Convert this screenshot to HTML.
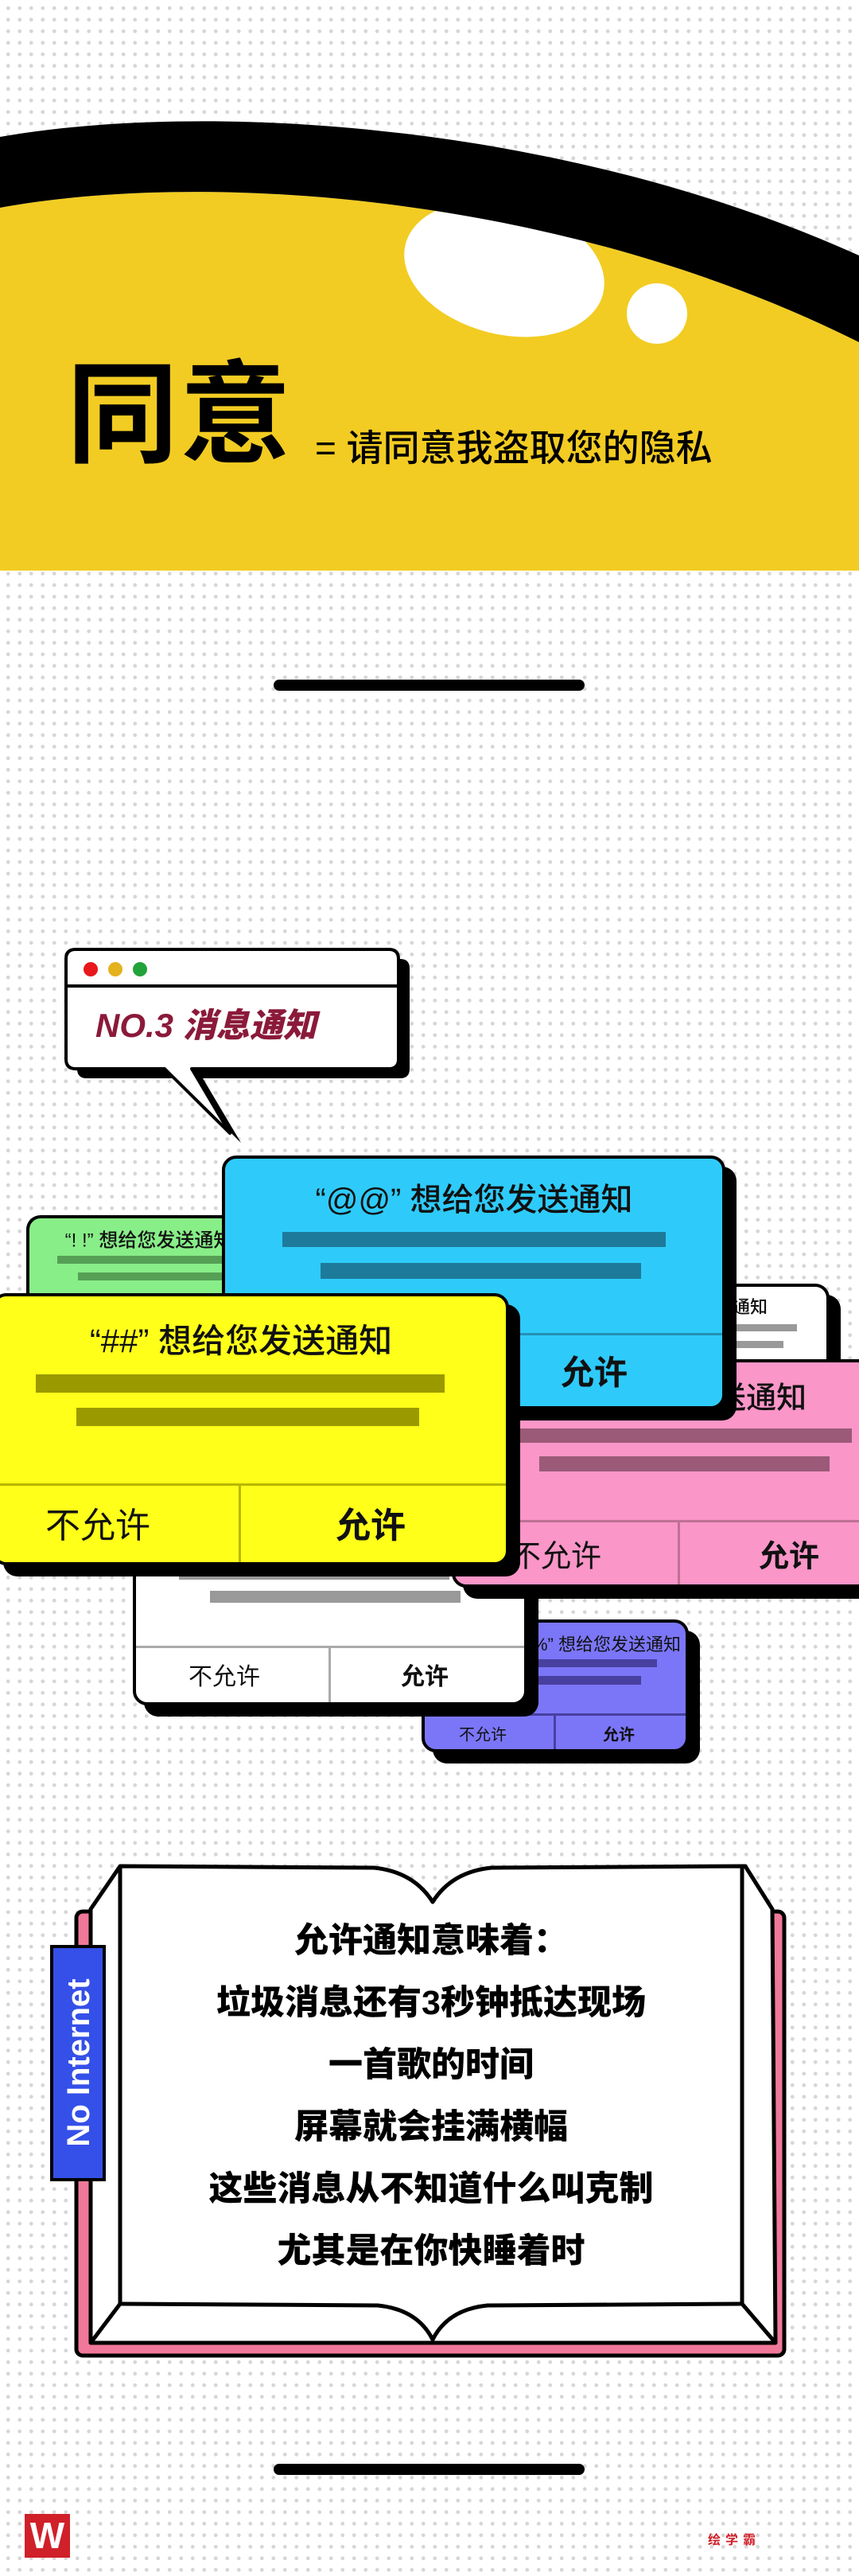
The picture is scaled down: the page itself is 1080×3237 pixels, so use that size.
<!DOCTYPE html>
<html><head><meta charset="utf-8">
<style>
*{margin:0;padding:0;box-sizing:border-box}
html,body{width:1080px;height:3237px;overflow:hidden}
body{position:relative;background-color:#fff;background-image:radial-gradient(circle,#d6d6d6 2.1px,transparent 2.6px);background-size:14.5px 14.5px;background-position:3px 3px;font-family:"Liberation Sans","Noto Sans CJK SC",sans-serif}
.abs{position:absolute}
.card{position:absolute;border:4px solid #000;border-radius:18px;box-shadow:14px 14px 0 #000;overflow:hidden}
.card .t{position:absolute;white-space:nowrap;transform:translate(-50%,-50%);color:#111}
.card .bar{position:absolute}
.card .hl{position:absolute;left:0;right:0;height:3px}
.card .vl{position:absolute;bottom:0;width:3px}
.bar2{position:absolute;height:14px;background:#000;border-radius:7px}
</style></head><body>

<svg class="abs" style="left:0;top:0" width="1080" height="760">
<path d="M0,261 C250,215 700,240 1080,430 L1080,717 L0,717 Z" fill="#F2CC22"/>
<ellipse cx="634" cy="338" rx="128" ry="82" transform="rotate(14 634 338)" fill="#fff"/>
<circle cx="826" cy="394" r="38" fill="#fff"/>
<path d="M0,172 C250,128 700,150 1080,321 L1080,430 C700,240 250,215 0,261 Z" fill="#000"/>
</svg>
<div class="abs" style="left:84px;top:452px;font-size:140px;font-weight:700;line-height:1;letter-spacing:2px">同意</div>
<div class="abs" style="left:396px;top:540px;font-size:46px;font-weight:500;line-height:1">= 请同意我盗取您的隐私</div>
<div class="bar2" style="left:344px;top:854px;width:391px"></div>

<!-- bubble -->
<svg class="abs" style="left:0;top:1180px" width="540" height="260" viewBox="0 1180 540 260">
<path transform="translate(14,12)" d="M95,1193 H489 Q501,1193 501,1205 V1331 Q501,1343 489,1343 H241 L289,1424 L207,1343 H95 Q83,1343 83,1331 V1205 Q83,1193 95,1193 Z" fill="#000"/>
<path d="M95,1193 H489 Q501,1193 501,1205 V1331 Q501,1343 489,1343 H241 L289,1424 L207,1343 H95 Q83,1343 83,1331 V1205 Q83,1193 95,1193 Z" fill="#fff" stroke="#000" stroke-width="4" stroke-linejoin="round"/>
<line x1="83" y1="1239" x2="501" y2="1239" stroke="#000" stroke-width="4"/>
<circle cx="114" cy="1218" r="9" fill="#E8171B"/>
<circle cx="145" cy="1218" r="9" fill="#E3B21C"/>
<circle cx="176" cy="1218" r="9" fill="#22A33A"/>
<text x="120" y="1303" font-family="Liberation Sans,Noto Sans CJK SC,sans-serif" font-size="42" font-weight="900" font-style="italic" fill="#8B1A3A">NO.3  消息通知</text>
</svg>

<!-- purple -->
<div class="card" style="left:530px;top:2035px;width:336px;height:167px;background:#7B76F8">
<div class="t" style="left:215px;top:26px;font-size:22px">“%%” 想给您发送通知</div>
<div class="bar" style="left:127px;top:46px;width:165px;height:10px;background:#4840A0"></div>
<div class="bar" style="left:127px;top:67px;width:145px;height:11px;background:#4840A0"></div>
<div class="hl" style="top:114px;background:#4840A0"></div>
<div class="vl" style="left:162px;top:114px;background:#4840A0"></div>
<div class="t" style="left:73px;top:139px;font-size:20px">不允许</div>
<div class="t" style="left:244px;top:139px;font-size:20px;font-weight:700">允许</div>
</div>

<!-- white lower -->
<div class="card" style="left:167px;top:1880px;width:496px;height:263px;background:#fff">
<div class="bar" style="left:54px;top:87px;width:340px;height:14px;background:#999"></div>
<div class="bar" style="left:93px;top:115px;width:315px;height:15px;background:#999"></div>
<div class="hl" style="top:184px;background:#aaa"></div>
<div class="vl" style="left:242px;top:184px;background:#aaa"></div>
<div class="t" style="left:111px;top:220px;font-size:30px">不允许</div>
<div class="t" style="left:363px;top:220px;font-size:30px;font-weight:700">允许</div>
</div>

<!-- green -->
<div class="card" style="left:33px;top:1527px;width:400px;height:300px;background:#88EE88">
<div class="t" style="left:150px;top:25px;font-size:24px;font-weight:500">“! !” 想给您发送通知</div>
<div class="bar" style="left:35px;top:47px;width:300px;height:10px;background:#55A055"></div>
<div class="bar" style="left:61px;top:68px;width:280px;height:10px;background:#55A055"></div>
</div>

<!-- white right -->
<div class="card" style="left:895px;top:1613px;width:148px;height:120px;background:#fff">
<div class="t" style="left:22px;top:24px;font-size:22px;font-weight:500">发送通知</div>
<div class="bar" style="left:20px;top:47px;width:83px;height:9px;background:#999"></div>
<div class="bar" style="left:20px;top:68px;width:66px;height:9px;background:#999"></div>
</div>

<!-- pink -->
<div class="card" style="left:568px;top:1708px;width:560px;height:287px;background:#FA96C8">
<div class="t" style="left:270px;top:41px;font-size:38px;font-weight:500">“$$” 想给您发送通知</div>
<div class="bar" style="left:68px;top:83px;width:431px;height:18px;background:#9A5A78"></div>
<div class="bar" style="left:106px;top:118px;width:365px;height:19px;background:#9A5A78"></div>
<div class="hl" style="top:198px;background:#c07095"></div>
<div class="vl" style="left:280px;top:198px;background:#c07095"></div>
<div class="t" style="left:127px;top:240px;font-size:38px">不允许</div>
<div class="t" style="left:420px;top:240px;font-size:38px;font-weight:700">允许</div>
</div>

<!-- blue -->
<div class="card" style="left:279px;top:1452px;width:633px;height:319px;background:#2ECBFA">
<div class="t" style="left:313px;top:48px;font-size:40px;font-weight:500">“@@” 想给您发送通知</div>
<div class="bar" style="left:72px;top:92px;width:482px;height:19px;background:#1E7A9A"></div>
<div class="bar" style="left:120px;top:131px;width:403px;height:20px;background:#1E7A9A"></div>
<div class="hl" style="top:219px;background:#2590b5"></div>
<div class="t" style="left:464px;top:266px;font-size:42px;font-weight:700">允许</div>
</div>

<!-- yellow -->
<div class="card" style="left:-10px;top:1625px;width:650px;height:342px;background:#FFFF1A">
<div class="t" style="left:309px;top:53px;font-size:42px;font-weight:500">“##” 想给您发送通知</div>
<div class="bar" style="left:51px;top:98px;width:514px;height:23px;background:#9A9A00"></div>
<div class="bar" style="left:102px;top:140px;width:431px;height:23px;background:#9A9A00"></div>
<div class="hl" style="top:235px;background:#b8b800"></div>
<div class="vl" style="left:306px;top:235px;background:#b8b800"></div>
<div class="t" style="left:129px;top:284px;font-size:44px">不允许</div>
<div class="t" style="left:472px;top:284px;font-size:44px;font-weight:700">允许</div>
</div>

<!-- book -->
<svg class="abs" style="left:0;top:2330px" width="1080" height="650" viewBox="0 2330 1080 650">
<rect x="96" y="2402" width="890" height="558" rx="8" fill="#F07898" stroke="#000" stroke-width="5"/>
<path d="M151,2345 L470,2347 Q520,2352 544,2390 Q568,2352 618,2347 L937,2345 L971,2399 L975,2944 L114,2944 L114,2399 Z" fill="#fff" stroke="#000" stroke-width="5" stroke-linejoin="round"/>
<line x1="151" y1="2345" x2="151" y2="2895" stroke="#000" stroke-width="5"/>
<line x1="933" y1="2345" x2="933" y2="2895" stroke="#000" stroke-width="5"/>
<path d="M151,2895 L475,2897 Q525,2902 544,2940 Q563,2902 613,2897 L933,2895" fill="none" stroke="#000" stroke-width="5"/>
<line x1="151" y1="2895" x2="114" y2="2944" stroke="#000" stroke-width="5"/>
<line x1="933" y1="2895" x2="975" y2="2944" stroke="#000" stroke-width="5"/>
<rect x="65" y="2446" width="66" height="293" fill="#3550E8" stroke="#000" stroke-width="4"/>
<text x="0" y="0" transform="translate(112,2592) rotate(-90)" text-anchor="middle" font-family="Liberation Sans,sans-serif" font-size="40" font-weight="700" fill="#fff">No Internet</text>
</svg>
<div class="abs" style="left:151px;width:782px;top:2400px;text-align:center;font-size:43px;font-weight:900;line-height:78px">
允许通知意味着：<br>垃圾消息还有3秒钟抵达现场<br>一首歌的时间<br>屏幕就会挂满横幅<br>这些消息从不知道什么叫克制<br>尤其是在你快睡着时
</div>

<div class="bar2" style="left:344px;top:3096px;width:391px"></div>
<div class="abs" style="left:31px;top:3159px;width:57px;height:55px;background:#D0202A;color:#fff;font-size:46px;font-weight:900;text-align:center;line-height:55px">W</div>
<div class="abs" style="left:890px;top:3178px;font-size:16px;font-weight:700;color:#D0202A;letter-spacing:6px">绘学霸</div>
</body></html>
